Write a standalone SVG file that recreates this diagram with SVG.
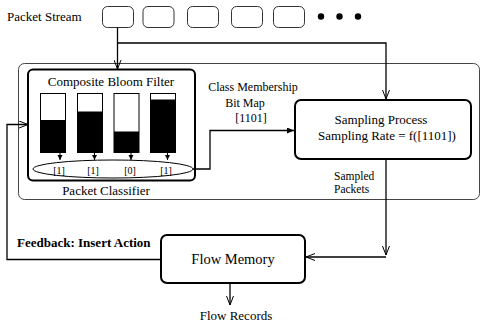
<svg xmlns="http://www.w3.org/2000/svg" width="482" height="329" viewBox="0 0 482 329" font-family="'Liberation Serif', 'Times New Roman', 'DejaVu Serif', serif">
<style>
text{font-family:'Liberation Serif','Times New Roman','DejaVu Serif',serif;fill:#000}
.t13{font-size:13px}
.t12{font-size:12px}
.pk{fill:#fff;stroke:#333;stroke-width:1}
.box{fill:#fff;stroke:#000;stroke-width:2}
.bar{fill:#fff;stroke:#000;stroke-width:1}
.ln{fill:none;stroke:#000;stroke-width:1.3}
</style>
<defs>
<marker id="open" markerUnits="userSpaceOnUse" markerWidth="10" markerHeight="8" refX="9" refY="4" orient="auto">
<path d="M0,0.5 L9,4 L0,7.5" fill="none" stroke="#000" stroke-width="1"/>
</marker>
<marker id="fill" markerUnits="userSpaceOnUse" markerWidth="8" markerHeight="6" refX="7" refY="3" orient="auto">
<path d="M0,0 L7,3 L0,6 Z" fill="#000"/>
</marker>
<marker id="small" markerUnits="userSpaceOnUse" markerWidth="6" markerHeight="6" refX="5" refY="2.5" orient="auto">
<path d="M0,0 L5,2.5 L0,5 Z" fill="#000"/>
</marker>
</defs>

<g id="packet-stream">
<text class="t13" x="7" y="21">Packet Stream</text>
<rect class="pk" x="102.5" y="6.5" width="31" height="21" rx="5"/>
<rect class="pk" x="143" y="6.5" width="31" height="21" rx="5"/>
<rect class="pk" x="187.5" y="6.5" width="31" height="21" rx="5"/>
<rect class="pk" x="231.5" y="6.5" width="31" height="21" rx="5"/>
<rect class="pk" x="273.5" y="6.5" width="31" height="21" rx="5"/>
<circle cx="321" cy="16.5" r="3.2"/>
<circle cx="339.5" cy="16.5" r="3.2"/>
<circle cx="358" cy="16.5" r="3.2"/>
</g>

<g id="outer-box">
<rect x="18.5" y="63.5" width="461" height="136" rx="6" fill="none" stroke="#444" stroke-width="1"/>
</g>

<g id="packet-classifier">
<rect class="box" x="28" y="69.5" width="167" height="111" rx="5"/>
<text class="t13" x="106" y="195" text-anchor="middle">Packet Classifier</text>
</g>

<g id="composite-bloom-filter">
<text class="t13" x="111" y="86" text-anchor="middle">Composite Bloom Filter</text>
<rect class="bar" x="40.5" y="93.5" width="25" height="59"/>
<rect x="40.5" y="120" width="25" height="32.5" fill="#000"/>
<rect class="bar" x="77.5" y="93.5" width="25" height="59"/>
<rect x="77.5" y="111.5" width="25" height="41" fill="#000"/>
<rect class="bar" x="114" y="93.5" width="25" height="59"/>
<rect x="114" y="131.5" width="25" height="21" fill="#000"/>
<rect class="bar" x="150.5" y="93.5" width="25" height="59"/>
<rect x="150.5" y="99.5" width="25" height="53" fill="#000"/>
<ellipse cx="113" cy="169" rx="80" ry="9" fill="none" stroke="#000" stroke-width="1"/>
<g stroke="#000" stroke-width="1">
<line x1="60" y1="153" x2="60" y2="160" marker-end="url(#small)"/>
<line x1="94.5" y1="153" x2="94.5" y2="160" marker-end="url(#small)"/>
<line x1="131" y1="153" x2="131" y2="160" marker-end="url(#small)"/>
<line x1="167.5" y1="153" x2="167.5" y2="160" marker-end="url(#small)"/>
</g>
<g style="font-size:10px" text-anchor="middle">
<text x="59" y="173.5">[1]</text>
<text x="93" y="173.5">[1]</text>
<text x="130" y="173.5">[0]</text>
<text x="166" y="173.5">[1]</text>
</g>
</g>

<g id="bitmap-label">
<text class="t12" x="253" y="91" text-anchor="middle">Class Membership</text>
<text class="t12" x="245" y="107" text-anchor="middle">Bit Map</text>
<text class="t12" x="251" y="122" text-anchor="middle">[1101]</text>
</g>

<g id="sampling-process">
<rect class="box" x="295" y="100" width="176" height="59" rx="6"/>
<text class="t13" x="381" y="124" text-anchor="middle">Sampling Process</text>
<text class="t13" x="387" y="140" text-anchor="middle">Sampling Rate = f([1101])</text>
</g>

<g id="sampled-packets-label">
<text x="334" y="180" style="font-size:11.5px">Sampled</text>
<text x="334" y="193" style="font-size:11.5px">Packets</text>
</g>

<g id="flow-memory">
<rect class="box" x="161" y="235" width="144" height="48" rx="6"/>
<text x="233" y="264" text-anchor="middle" style="font-size:14.5px">Flow Memory</text>
</g>

<g id="feedback-label">
<text class="t13" x="17" y="246.5" font-weight="bold">Feedback: Insert Action</text>
</g>

<g id="flow-records">
<text class="t13" x="236" y="320" text-anchor="middle">Flow Records</text>
</g>

<g id="connectors">
<path class="ln" d="M117.5 27.5 V69" marker-end="url(#open)"/>
<path class="ln" d="M117.5 43 H386 V99" marker-end="url(#open)"/>
<path class="ln" d="M193 169 H210 V130.5 H294" marker-end="url(#fill)"/>
<path class="ln" d="M386 159 V255" marker-end="url(#open)"/>
<path class="ln" d="M386 257 H306" marker-end="url(#open)"/>
<path class="ln" d="M161 259.5 H7 V124.5 H28" marker-end="url(#open)"/>
<path class="ln" d="M230 283 V305" marker-end="url(#open)"/>
</g>
</svg>
